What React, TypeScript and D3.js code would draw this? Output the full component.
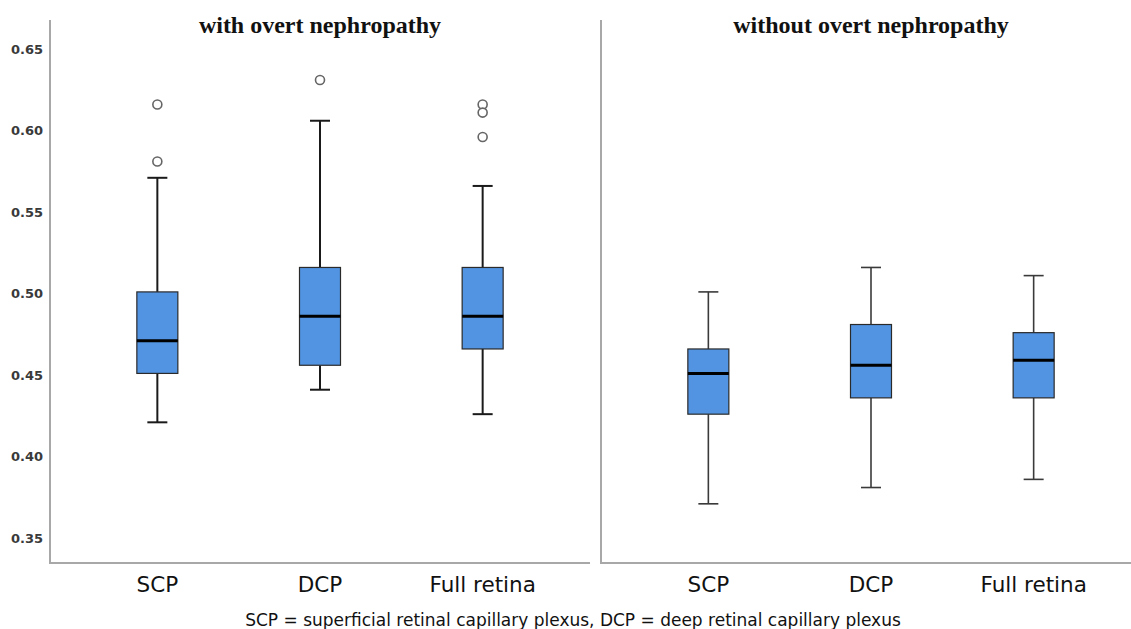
import React from "react";
import * as d3 from "d3";

const panels = ["with overt nephropathy", "without overt nephropathy"];
const categories = ["SCP", "DCP", "Full retina"];

// [lower whisker, Q1, median, Q3, upper whisker] per category
const withStats = [
  [0.421, 0.451, 0.471, 0.501, 0.571],
  [0.441, 0.456, 0.486, 0.516, 0.606],
  [0.426, 0.466, 0.486, 0.516, 0.566],
];
const withoutStats = [
  [0.371, 0.426, 0.451, 0.466, 0.501],
  [0.381, 0.436, 0.456, 0.481, 0.516],
  [0.386, 0.436, 0.459, 0.476, 0.511],
];
const withOutliers = [[0.616, 0.581], [0.631], [0.616, 0.611, 0.596]];
const withoutOutliers = [[], [], []];

const yTicks = [0.35, 0.4, 0.45, 0.5, 0.55, 0.6, 0.65];
const yDomain = [0.3347, 0.6678];
const footnote = "SCP = superficial retinal capillary plexus, DCP = deep retinal capillary plexus";

const W = 1131;
const H = 629;
const top = 20;
const bottom = 563;
const panelLeft = [50, 601];
const panelWidth = 540;

const App = () => {
  const y = d3.scaleLinear().domain(yDomain).range([bottom, top]);
  const stats = [withStats, withoutStats];
  const outliers = [withOutliers, withoutOutliers];
  const boxW = 41;
  const capW = 20;

  return (
    <svg
      width={W}
      height={H}
      style={{ position: "absolute", left: 0, top: 0, background: "#fff" }}
    >
      {/* y tick labels */}
      {yTicks.map((t) => (
        <text
          key={t}
          x={43}
          y={y(t)}
          dy="0.35em"
          textAnchor="end"
          fontFamily="DejaVu Sans"
          fontWeight="bold"
          fontSize={13}
          fill="#3a3a3a"
        >
          {t.toFixed(2)}
        </text>
      ))}

      {panels.map((title, pi) => {
        const x0 = panelLeft[pi];
        const x = d3
          .scalePoint()
          .domain(categories)
          .range([x0, x0 + panelWidth])
          .padding(0.66);
        return (
          <g key={title}>
            <line x1={x0} x2={x0} y1={top} y2={bottom} stroke="#a8a8a8" strokeWidth={2} />
            <line
              x1={x0 - 1}
              x2={Math.min(x0 + panelWidth, W)}
              y1={bottom}
              y2={bottom}
              stroke="#a8a8a8"
              strokeWidth={2}
            />
            <text
              x={x(categories[1])}
              y={33}
              textAnchor="middle"
              fontFamily="Liberation Serif"
              fontWeight="bold"
              fontSize={24}
              fill="#111"
            >
              {title}
            </text>
            {categories.map((c, ci) => {
              const [lo, q1, med, q3, hi] = stats[pi][ci];
              const cx = x(c) as number;
              const ws = pi === 0 ? 2 : 1.6;
              const wc = pi === 0 ? "#1a1a1a" : "#3a3a3a";
              return (
                <g key={c}>
                  <line x1={cx} x2={cx} y1={y(hi)} y2={y(q3)} stroke={wc} strokeWidth={ws} />
                  <line x1={cx} x2={cx} y1={y(q1)} y2={y(lo)} stroke={wc} strokeWidth={ws} />
                  <line x1={cx - capW / 2} x2={cx + capW / 2} y1={y(hi)} y2={y(hi)} stroke={wc} strokeWidth={ws} />
                  <line x1={cx - capW / 2} x2={cx + capW / 2} y1={y(lo)} y2={y(lo)} stroke={wc} strokeWidth={ws} />
                  <rect
                    x={cx - boxW / 2}
                    y={y(q3)}
                    width={boxW}
                    height={y(q1) - y(q3)}
                    fill="#5294e2"
                    stroke="#2a2a2a"
                    strokeWidth={1.2}
                  />
                  <line
                    x1={cx - boxW / 2}
                    x2={cx + boxW / 2}
                    y1={y(med)}
                    y2={y(med)}
                    stroke="#000"
                    strokeWidth={3}
                  />
                  {outliers[pi][ci].map((o, oi) => (
                    <circle
                      key={oi}
                      cx={cx}
                      cy={y(o)}
                      r={4.5}
                      fill="#fff"
                      stroke="#666"
                      strokeWidth={1.6}
                    />
                  ))}
                  <text
                    x={cx}
                    y={592}
                    textAnchor="middle"
                    fontFamily="DejaVu Sans"
                    fontSize={21.5}
                    fill="#111"
                  >
                    {c}
                  </text>
                </g>
              );
            })}
          </g>
        );
      })}

      <text
        x={573}
        y={626}
        textAnchor="middle"
        fontFamily="DejaVu Sans"
        fontSize={17}
        fill="#111"
      >
        {footnote}
      </text>
    </svg>
  );
};

export default App;
